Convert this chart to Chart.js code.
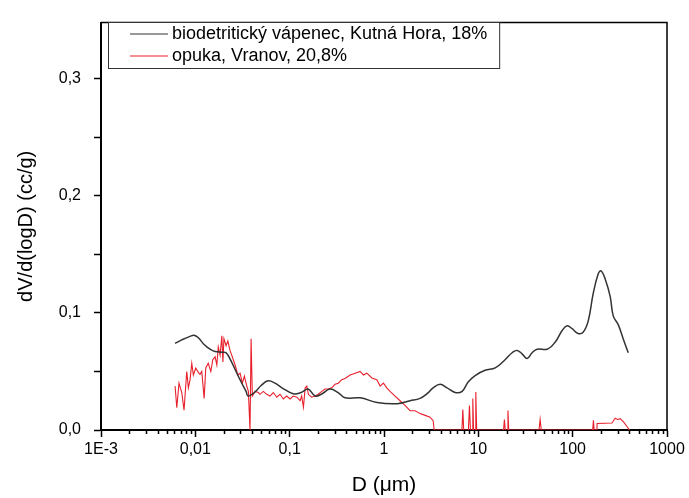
<!DOCTYPE html>
<html>
<head>
<meta charset="utf-8">
<script src="https://cdn.jsdelivr.net/npm/chart.js@4/dist/chart.umd.min.js"></script>
<style>
	html, body { margin: 0; padding: 0; background: #fff; }
	#wrap { width: 689px; height: 498px; }
</style>
</head>
<body>
<div id="wrap"><canvas id="pore-chart"></canvas></div>
<script>
// biodetritický vápenec, Kutná Hora
const limestoneD = [0.0061, 0.00741, 0.00879, 0.00968, 0.0107, 0.0124, 0.0143, 0.0162, 0.0192, 0.0212, 0.0239, 0.027, 0.0306, 0.0345, 0.0362, 0.043, 0.0498, 0.059, 0.07, 0.083, 0.109, 0.132, 0.157, 0.186, 0.221, 0.268, 0.326, 0.386, 0.558, 0.845, 1.38, 1.89, 2.41, 2.86, 3.32, 3.94, 4.67, 5.68, 6.73, 7.8, 9.25, 11.8, 15.1, 19.2, 22.8, 25.8, 29.1, 32.9, 37.2, 42, 53.7, 65.2, 77.4, 87.4, 98.8, 114, 129, 146, 165, 186, 200, 221, 250, 269, 304, 343, 388];
const limestoneV = [0.074, 0.0775, 0.08, 0.081, 0.079, 0.073, 0.069, 0.067, 0.0665, 0.066, 0.059, 0.05, 0.041, 0.033, 0.029, 0.0325, 0.038, 0.042, 0.04, 0.036, 0.031, 0.032, 0.035, 0.029, 0.031, 0.035, 0.032, 0.0275, 0.0275, 0.0235, 0.0225, 0.025, 0.027, 0.031, 0.036, 0.039, 0.036, 0.032, 0.033, 0.041, 0.0465, 0.051, 0.053, 0.06, 0.066, 0.068, 0.065, 0.061, 0.066, 0.069, 0.069, 0.075, 0.085, 0.089, 0.0865, 0.0825, 0.0835, 0.093, 0.1165, 0.133, 0.136, 0.129, 0.114, 0.0975, 0.09, 0.078, 0.066];

// opuka, Vranov
const opukaD = [0.0061, 0.00636, 0.00671, 0.00718, 0.00759, 0.00811, 0.00844, 0.00879, 0.00917, 0.00953, 0.0101, 0.0108, 0.0112, 0.0117, 0.0124, 0.0129, 0.0137, 0.0146, 0.0153, 0.0162, 0.0169, 0.0175, 0.0183, 0.0191, 0.0196, 0.0201, 0.0212, 0.0221, 0.0233, 0.0243, 0.0264, 0.0282, 0.0298, 0.0315, 0.0331, 0.0351, 0.0365, 0.038, 0.039, 0.0402, 0.043, 0.0466, 0.0485, 0.0526, 0.0571, 0.0619, 0.0671, 0.0729, 0.079, 0.0857, 0.0931, 0.101, 0.109, 0.119, 0.129, 0.134, 0.14, 0.146, 0.152, 0.158, 0.171, 0.186, 0.201, 0.219, 0.237, 0.257, 0.279, 0.303, 0.328, 0.356, 0.386, 0.438, 0.494, 0.558, 0.605, 0.658, 0.743, 0.839, 0.91, 0.986, 1.07, 1.16, 1.31, 1.48, 1.67, 1.89, 2.14, 2.41, 2.73, 3.08, 3.32, 3.4, 6.7, 6.85, 7.0, 7.85, 8.05, 8.25, 8.6, 8.74, 8.9, 9.25, 9.4, 9.6, 18.5, 18.9, 19.3, 20.2, 20.6, 21, 44, 45.2, 46.5, 163, 166, 169, 181, 181.5, 261, 282, 299, 319, 346, 376, 400];
const opukaV = [0.0375, 0.019, 0.04, 0.032, 0.017, 0.05, 0.036, 0.043, 0.057, 0.047, 0.053, 0.049, 0.0475, 0.05, 0.027, 0.053, 0.057, 0.05, 0.06, 0.0625, 0.0555, 0.071, 0.064, 0.0805, 0.058, 0.078, 0.072, 0.076, 0.068, 0.064, 0.0555, 0.047, 0.0485, 0.04, 0.046, 0.0375, 0.033, 0, 0.078, 0.029, 0.033, 0.032, 0.0305, 0.033, 0.0305, 0.029, 0.032, 0.028, 0.0305, 0.0265, 0.029, 0.0265, 0.029, 0.028, 0.025, 0.029, 0.0195, 0.036, 0.0375, 0.0305, 0.028, 0.029, 0.0305, 0.033, 0.035, 0.035, 0.036, 0.039, 0.04, 0.043, 0.044, 0.047, 0.0485, 0.05, 0.047, 0.0485, 0.0445, 0.043, 0.0375, 0.04, 0.036, 0.033, 0.029, 0.025, 0.021, 0.0165, 0.0165, 0.014, 0.0125, 0.011, 0.008, 0, 0, 0.0175, 0, 0, 0.021, 0, 0, 0.027, 0, 0, 0.0325, 0, 0, 0.009, 0, 0, 0.0167, 0, 0, 0.009, 0, 0, 0.0083, 0, 0, 0.0055, 0.006, 0.01, 0.009, 0.0097, 0.007, 0.003, 0];

const xDecades = [0.001, 0.01, 0.1, 1, 10, 100, 1000];
const xTickLabels = ['1E-3', '0,01', '0,1', '1', '10', '100', '1000'];
const yTicks = [0, 0.05, 0.1, 0.15, 0.2, 0.25, 0.3];
const yTickLabels = ['0,0', '', '0,1', '', '0,2', '', '0,3'];

const FONT = "'Liberation Sans', Arial, sans-serif";

const toPoints = (xs, ys) => xs.map((x, i) => ({ x: x, y: ys[i] }));

// minor x ticks 2..9 of every decade
const xMinor = [];
xDecades.slice(0, -1).forEach(d => {
	for (let k = 2; k <= 9; k++) xMinor.push(d * k);
});

const framePlugin = {
	id: 'frame',
	afterDraw(chart) {
		const { ctx, chartArea: a, scales: { x } } = chart;
		ctx.save();
		ctx.strokeStyle = '#000';
		ctx.lineWidth = 1.5;
		ctx.beginPath();
		ctx.moveTo(a.left, a.top);
		ctx.lineTo(a.right, a.top);
		ctx.lineTo(a.right, a.bottom);
		ctx.stroke();
		// minor ticks below the x axis
		ctx.beginPath();
		xMinor.forEach(v => {
			const px = Math.round(x.getPixelForValue(v)) + 0.5;
			ctx.moveTo(px, a.bottom);
			ctx.lineTo(px, a.bottom + 4);
		});
		ctx.stroke();
		ctx.restore();
	}
};

const legendBoxPlugin = {
	id: 'legendBox',
	afterDraw(chart) {
		const { ctx } = chart;
		const boxX = 108, boxY = 22, rowH = 22;
		const sets = chart.data.datasets;
		ctx.save();
		ctx.font = '18px ' + FONT;
		const textW = Math.max(...sets.map(s => ctx.measureText(s.label).width));
		const boxW = 64 + textW + 12;
		const boxH = rowH * sets.length + 2;
		ctx.fillStyle = '#fff';
		ctx.fillRect(boxX, boxY, boxW, boxH);
		ctx.strokeStyle = '#333';
		ctx.lineWidth = 1;
		ctx.strokeRect(boxX + 0.5, boxY + 0.5, boxW, boxH);
		sets.forEach((s, i) => {
			const cy = boxY + 12 + i * rowH;
			ctx.strokeStyle = s.borderColor;
			ctx.lineWidth = 1.2;
			ctx.beginPath();
			ctx.moveTo(boxX + 22, cy);
			ctx.lineTo(boxX + 60, cy);
			ctx.stroke();
			ctx.fillStyle = '#000';
			ctx.textBaseline = 'middle';
			ctx.fillText(s.label, boxX + 64, cy);
		});
		ctx.restore();
	}
};

new Chart(
	document.getElementById('pore-chart'),
	{
		type: 'line',
		data: {
			datasets: [
				{
					label: 'biodetritický vápenec, Kutná Hora, 18%',
					data: toPoints(limestoneD, limestoneV),
					borderColor: '#333333',
					borderWidth: 1.5,
					tension: 0.4,
					pointRadius: 0,
				},
				{
					label: 'opuka, Vranov, 20,8%',
					data: toPoints(opukaD, opukaV),
					borderColor: '#e8202c',
					borderWidth: 1.1,
					tension: 0,
					pointRadius: 0,
				},
			]
		},
		options: {
			responsive: true,
			maintainAspectRatio: false,
			animation: false,
			layout: {
				padding: { top: 12, right: 22, left: 0, bottom: 0 },
			},
			plugins: {
				legend: { display: false },
				tooltip: { enabled: false },
			},
			scales: {
				x: {
					type: 'logarithmic',
					min: 0.001,
					max: 1000,
					afterBuildTicks: (scale) => {
						scale.ticks = xDecades.map(v => ({ value: v, major: true }));
					},
					afterFit: (scale) => { scale.height = 68; },
					ticks: {
						autoSkip: false,
						maxRotation: 0,
						padding: 3,
						color: '#000',
						font: { family: FONT, size: 16 },
						callback: (value, index) => xTickLabels[index],
					},
					grid: {
						drawOnChartArea: false,
						tickLength: 7,
						tickColor: '#000',
						tickWidth: 1.5,
					},
					border: { color: '#000', width: 2 },
					title: {
						display: true,
						text: 'D (μm)',
						color: '#000',
						font: { family: FONT, size: 21 },
						padding: { top: 0, bottom: 0 },
					},
				},
				y: {
					min: 0,
					max: 0.348,
					afterBuildTicks: (scale) => {
						scale.ticks = yTicks.map(v => ({ value: v }));
					},
					afterFit: (scale) => { scale.width = 101; },
					ticks: {
						autoSkip: false,
						padding: 13,
						color: '#000',
						font: { family: FONT, size: 16 },
						callback: (value, index) => yTickLabels[index],
					},
					grid: {
						drawOnChartArea: false,
						tickLength: 7,
						tickColor: '#000',
						tickWidth: 1.5,
					},
					border: { color: '#000', width: 2 },
					title: {
						display: true,
						text: 'dV/d(logD) (cc/g)',
						color: '#000',
						font: { family: FONT, size: 20 },
						padding: { top: 14, bottom: 0 },
					},
				},
			}
		},
		plugins: [framePlugin, legendBoxPlugin],
	}
);
</script>
</body>
</html>
